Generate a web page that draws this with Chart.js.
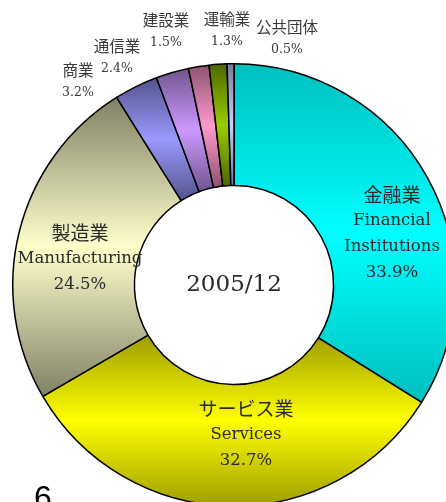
<!DOCTYPE html>
<html>
<head>
<meta charset="utf-8">
<script src="https://cdn.jsdelivr.net/npm/chart.js@4.4.0/dist/chart.umd.min.js"></script>
<style>
  html, body { margin: 0; padding: 0; width: 446px; height: 502px; overflow: hidden; background: #fff; }
  #wrap { position: relative; width: 446px; height: 502px; overflow: hidden; }
  #chart { position: absolute; left: 0; top: 0; }
  #pageNo { position: absolute; left: 34px; top: 479px; font: 32px "Liberation Sans", Arial, sans-serif; color: #000; }
</style>
</head>
<body>
<div id="wrap">
  <canvas id="chart" width="468" height="570"></canvas>
  <div id="pageNo">6</div>
</div>
<script>
// data
var sectorsJa = ['金融業', 'サービス業', '製造業', '商業', '通信業', '建設業', '運輸業', '公共団体'];
var sectorsEn = ['Financial\nInstitutions', 'Services', 'Manufacturing', '', '', '', '', ''];
var shares = [33.9, 32.7, 24.5, 3.2, 2.4, 1.5, 1.3, 0.5];
var period = '2005/12';

// style
var baseColors = [[0, 255, 255], [255, 255, 0], [255, 255, 204], [153, 153, 255],
                  [204, 153, 255], [255, 153, 204], [153, 204, 0], [204, 204, 255]];
var shade = [0.75, 0.62, 0.5, 0.55, 0.55, 0.55, 0.5, 0.6];
// label anchor relative to chart centre, and whether the label sits inside the ring
var labelAt = [[158, -90, true], [12, 124, true], [-154, -52, true],
               [-156, -215, false], [-117, -239, false], [-68, -265, false],
               [-7, -266, false], [53, -258, false]];

function rgb(c, f) {
  return 'rgb(' + Math.round(c[0] * f) + ',' + Math.round(c[1] * f) + ',' + Math.round(c[2] * f) + ')';
}

function segGradient(context) {
  var chart = context.chart;
  var i = context.dataIndex;
  var base = baseColors[i];
  var area = chart.chartArea;
  if (!area) return rgb(base, 1);
  var ctrl = chart.getDatasetMeta(0).controller;
  var outer = ctrl.outerRadius || Math.min(area.width, area.height) / 2;
  var inner = ctrl.innerRadius || outer * 0.45;
  var cy = (area.top + area.bottom) / 2;
  var total = shares.reduce(function (a, b) { return a + b; }, 0);
  var before = 0;
  for (var k = 0; k < i; k++) before += shares[k];
  var a0 = -Math.PI / 2 + 2 * Math.PI * before / total;
  var a1 = a0 + 2 * Math.PI * shares[i] / total;
  var minY = Infinity, maxY = -Infinity;
  for (var s = 0; s <= 40; s++) {
    var a = a0 + (a1 - a0) * s / 40;
    [outer, inner].forEach(function (r) {
      var y = cy + r * Math.sin(a);
      minY = Math.min(minY, y);
      maxY = Math.max(maxY, y);
    });
  }
  var g = chart.ctx.createLinearGradient(0, minY, 0, maxY);
  g.addColorStop(0, rgb(base, shade[i]));
  g.addColorStop(0.5, rgb(base, 1));
  g.addColorStop(1, rgb(base, shade[i]));
  return g;
}

var labelPlugin = {
  id: 'sectorLabels',
  afterDraw: function (chart) {
    var ctx = chart.ctx;
    var area = chart.chartArea;
    var cx = (area.left + area.right) / 2;
    var cy = (area.top + area.bottom) / 2;
    ctx.save();
    ctx.textAlign = 'center';
    ctx.textBaseline = 'middle';
    for (var i = 0; i < shares.length; i++) {
      var p = labelAt[i];
      var x = cx + p[0], y = cy + p[1];
      var pct = shares[i].toFixed(1) + '%';
      if (p[2]) {
        ctx.fillStyle = '#2b2b2b';
        var lines = [sectorsJa[i]].concat(sectorsEn[i] ? sectorsEn[i].split('\n') : []).concat([pct]);
        lines.forEach(function (t, n) {
          ctx.font = n === 0 ? '19px "Noto Sans CJK JP"' : '16.5px "DejaVu Serif"';
          ctx.fillText(t, x, y + n * 25.8);
        });
      } else {
        ctx.fillStyle = '#3a3a3a';
        ctx.font = '15.5px "Noto Sans CJK JP"';
        ctx.fillText(sectorsJa[i], x, y);
        ctx.font = '12.5px "DejaVu Serif"';
        ctx.fillText(pct, x, y + 23);
      }
    }
    ctx.fillStyle = '#2b2b2b';
    ctx.font = '23px "DejaVu Serif"';
    ctx.fillText(period, cx, cy);
    ctx.restore();
  }
};

new Chart(document.getElementById('chart'), {
  type: 'doughnut',
  data: {
    labels: sectorsJa,
    datasets: [{
      data: shares,
      backgroundColor: segGradient,
      borderColor: '#000',
      borderWidth: 1.5,
      hoverOffset: 0
    }]
  },
  options: {
    responsive: false,
    animation: false,
    cutout: '45%',
    layout: { padding: { top: 63, bottom: 63, left: 12, right: 12 } },
    plugins: {
      legend: { display: false },
      tooltip: { enabled: false }
    }
  },
  plugins: [labelPlugin]
});
</script>
</body>
</html>
